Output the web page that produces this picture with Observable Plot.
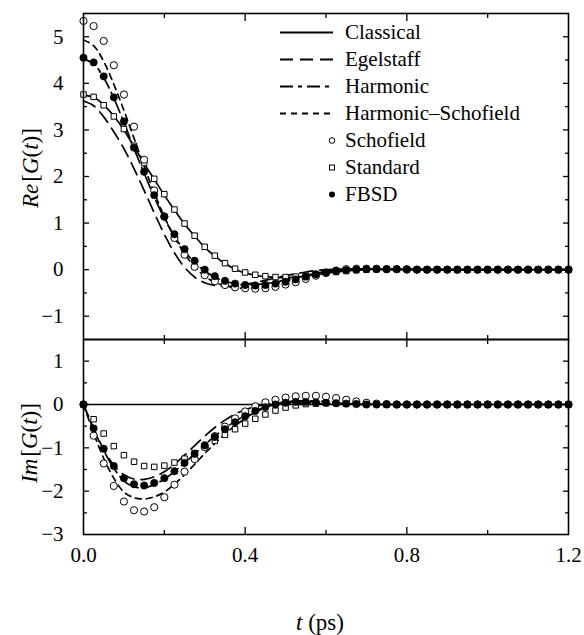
<!DOCTYPE html>
<html><head><meta charset="utf-8">
<script src="https://cdn.jsdelivr.net/npm/d3@7"></script>
<script src="https://cdn.jsdelivr.net/npm/@observablehq/plot@0.6"></script>
<style>
body{margin:0;background:#fff;}
#chart{position:relative;width:584px;height:635px;font-family:"Liberation Serif",Tinos,"Times New Roman",Times,"DejaVu Serif",serif;color:#000;}
#chart svg.panel{position:absolute;left:0;overflow:visible;}
#chart svg.panel text{font-family:"Liberation Serif",Tinos,"Times New Roman",Times,"DejaVu Serif",serif;}
.lab{position:absolute;white-space:nowrap;font-size:23px;line-height:1;}
</style></head><body><div id="chart"></div>
<script>
// time grid (ps)
const t = [0,0.025,0.05,0.075,0.1,0.125,0.15,0.175,0.2,0.225,
0.25,0.275,0.3,0.325,0.35,0.375,0.4,0.425,0.45,0.475,
0.5,0.525,0.55,0.575,0.6,0.625,0.65,0.675,0.7,0.725,
0.75,0.775,0.8,0.825,0.85,0.875,0.9,0.925,0.95,0.975,
1,1.025,1.05,1.075,1.1,1.125,1.15,1.175,1.2];

// Re[G(t)]
const classicalRe = [3.74,3.70,3.54,3.30,3.00,2.64,2.28,1.94,1.60,1.28,
0.98,0.72,0.48,0.29,0.13,0.01,-0.07,-0.12,-0.15,-0.17,
-0.17,-0.16,-0.14,-0.11,-0.08,-0.05,-0.03,-0.01,0.00,0.01,
0.01,0.01,0.01,0.01,0,0,0,0,0,0,
0,0,0,0,0,0,0,0,0];
const egelstaffRe = [3.62,3.52,3.28,2.96,2.60,2.17,1.70,1.22,0.76,0.36,
0.05,-0.16,-0.28,-0.34,-0.36,-0.35,-0.32,-0.28,-0.23,-0.18,
-0.13,-0.09,-0.05,-0.02,0.00,0.01,0.01,0.01,0.01,0.00,
0,0,0,0,0,0,0,0,0,0,
0,0,0,0,0,0,0,0,0];
const harmonicRe = [4.52,4.42,4.12,3.68,3.16,2.60,2.07,1.56,1.10,0.72,
0.40,0.15,-0.03,-0.16,-0.25,-0.30,-0.32,-0.32,-0.30,-0.27,
-0.22,-0.17,-0.12,-0.08,-0.04,-0.02,0.00,0.01,0.01,0.01,
0.01,0,0,0,0,0,0,0,0,0,
0,0,0,0,0,0,0,0,0];
const harmSchofieldRe = [4.93,4.81,4.47,3.98,3.42,2.82,2.22,1.65,1.14,0.70,
0.34,0.06,-0.14,-0.27,-0.35,-0.39,-0.40,-0.39,-0.36,-0.31,
-0.25,-0.19,-0.13,-0.08,-0.04,-0.01,0.00,0.01,0.01,0.01,
0,0,0,0,0,0,0,0,0,0,
0,0,0,0,0,0,0,0,0];
const schofieldRe = [5.34,5.23,4.91,4.39,3.76,3.07,2.36,1.70,1.14,0.68,
0.32,0.06,-0.12,-0.25,-0.33,-0.38,-0.40,-0.41,-0.40,-0.37,
-0.32,-0.27,-0.20,-0.13,-0.07,-0.02,0.01,0.02,0.02,0.02,
0.01,0.01,0,0,0,0,0,0,0,0,
0,0,0,0,0,0,0,0,0];
const standardRe = [3.76,3.71,3.53,3.29,3.02,2.66,2.29,1.95,1.62,1.29,
0.99,0.73,0.49,0.30,0.14,0.02,-0.06,-0.11,-0.14,-0.16,
-0.16,-0.15,-0.13,-0.10,-0.07,-0.05,-0.03,-0.01,0.00,0.01,
0.01,0.01,0.01,0,0,0,0,0,0,0,
0,0,0,0,0,0,0,0,0];
const fbsdRe = [4.55,4.45,4.15,3.70,3.18,2.62,2.10,1.60,1.14,0.76,
0.44,0.19,0.00,-0.14,-0.24,-0.30,-0.33,-0.34,-0.33,-0.30,
-0.26,-0.21,-0.15,-0.10,-0.06,-0.03,-0.01,0.00,0.01,0.01,
0.01,0.01,0.01,0,0,0,0,0,0,0,
0,0,0,0,0,0,0,0,0];

// Im[G(t)]
const classicalIm = [0,0,0,0,0,0,0,0,0,0,
0,0,0,0,0,0,0,0,0,0,
0,0,0,0,0,0,0,0,0,0,
0,0,0,0,0,0,0,0,0,0,
0,0,0,0,0,0,0,0,0];
const egelstaffIm = [0,-0.55,-1.04,-1.40,-1.62,-1.72,-1.73,-1.67,-1.55,-1.38,
-1.17,-0.95,-0.73,-0.53,-0.36,-0.22,-0.12,-0.05,0.00,0.02,
0.03,0.03,0.03,0.02,0.02,0.01,0.01,0,0,0,
0,0,0,0,0,0,0,0,0,0,
0,0,0,0,0,0,0,0,0];
const harmonicIm = [0,-0.57,-1.06,-1.47,-1.76,-1.90,-1.92,-1.85,-1.72,-1.55,
-1.35,-1.14,-0.93,-0.73,-0.55,-0.39,-0.26,-0.15,-0.06,0.00,
0.04,0.06,0.06,0.05,0.04,0.03,0.02,0.01,0,0,
0,0,0,0,0,0,0,0,0,0,
0,0,0,0,0,0,0,0,0];
const harmSchofieldIm = [0,-0.66,-1.24,-1.70,-2.02,-2.15,-2.18,-2.13,-2.02,-1.84,
-1.62,-1.38,-1.13,-0.90,-0.68,-0.49,-0.32,-0.18,-0.07,0.01,
0.06,0.08,0.09,0.08,0.07,0.05,0.04,0.02,0.01,0,
0,0,0,0,0,0,0,0,0,0,
0,0,0,0,0,0,0,0,0];
const schofieldIm = [0,-0.72,-1.36,-1.88,-2.24,-2.44,-2.47,-2.37,-2.14,-1.85,
-1.55,-1.26,-0.98,-0.73,-0.51,-0.32,-0.16,-0.04,0.05,0.11,
0.16,0.19,0.20,0.20,0.18,0.15,0.11,0.07,0.04,0.02,
0.01,0,0,0,0,0,0,0,0,0,
0,0,0,0,0,0,0,0,0];
const standardIm = [0,-0.34,-0.67,-0.96,-1.17,-1.32,-1.42,-1.44,-1.41,-1.34,
-1.25,-1.12,-0.98,-0.84,-0.70,-0.57,-0.44,-0.33,-0.23,-0.14,
-0.07,-0.02,0.01,0.02,0.03,0.03,0.02,0.02,0.01,0.01,
0,0,0,0,0,0,0,0,0,0,
0,0,0,0,0,0,0,0,0];
const fbsdIm = [0,-0.55,-1.02,-1.42,-1.70,-1.84,-1.87,-1.81,-1.70,-1.54,
-1.35,-1.14,-0.94,-0.75,-0.57,-0.41,-0.27,-0.15,-0.06,0.00,
0.04,0.06,0.06,0.05,0.04,0.03,0.02,0.01,0,0,
0,0,0,0,0,0,0,0,0,0,
0,0,0,0,0,0,0,0,0];

// series and styling keys
const lineNames = ["Classical","Egelstaff","Harmonic","Harmonic–Schofield"];
const pointNames = ["Schofield","Standard","FBSD"];
const dashes = {"Classical": null, "Egelstaff": "13,7", "Harmonic": "13,5,4,5", "Harmonic–Schofield": "6,5"};

// tick values
const xLabelTicks = [0, 0.4, 0.8, 1.2];
const xMajorTicks = [0.4, 0.8];
const xMinorTicks = [0.2, 0.6, 1.0];
const reLabelTicks = [-1,0,1,2,3,4,5];
const reMinorTicks = [-0.5,0.5,1.5,2.5,3.5,4.5];
const imLabelTicks = [-3,-2,-1,0,1];
const imMajorTicks = [-2,-1,0,1];
const imMinorTicks = [-2.5,-1.5,-0.5,0.5];

const FONT = "'Liberation Serif',Tinos,'Times New Roman',Times,'DejaVu Serif',serif";
const rows = (arr, s) => t.map((tt, i) => ({t: tt, v: arr[i], s}));
const fmtY = d => d < 0 ? "\u2212" + (-d) : String(d);

function panel({lines, pts, height, marginTop, marginBottom, yDomain, yLabels, yMajor, yMinor, xLabels}) {
  const marks = [];
  lineNames.forEach((name, k) => {
    const o = {x: "t", y: "v", curve: "catmull-rom", stroke: "black", strokeWidth: 1.7};
    if (dashes[name]) o.strokeDasharray = dashes[name];
    marks.push(Plot.line(rows(lines[k], name), o));
  });
  marks.push(Plot.dot(rows(pts[1], "Standard"), {x: "t", y: "v", symbol: "square", r: 3.1, fill: "white", stroke: "black", strokeWidth: 1}));
  marks.push(Plot.dot(rows(pts[0], "Schofield"), {x: "t", y: "v", r: 3.6, fill: "white", stroke: "black", strokeWidth: 1}));
  marks.push(Plot.dot(rows(pts[2], "FBSD"), {x: "t", y: "v", r: 3.7, fill: "black", stroke: "black", strokeWidth: 0.5}));
  for (const anchor of ["top", "bottom"]) {
    marks.push(Plot.axisX(xMajorTicks, {anchor, tickSize: -7, fill: "none", label: null, strokeWidth: 1.3}));
    marks.push(Plot.axisX(xMinorTicks, {anchor, tickSize: -4, fill: "none", label: null, strokeWidth: 1.3}));
  }
  for (const anchor of ["left", "right"]) {
    marks.push(Plot.axisY(yMajor, {anchor, tickSize: -6, fill: "none", label: null, strokeWidth: 1.3}));
    marks.push(Plot.axisY(yMinor, {anchor, tickSize: -4, fill: "none", label: null, strokeWidth: 1.3}));
  }
  marks.push(Plot.axisY(yLabels, {anchor: "left", tickSize: 0, tickPadding: 20, tickFormat: fmtY, label: null, fontFamily: FONT}));
  if (xLabels) marks.push(Plot.axisX(xLabels, {anchor: "bottom", tickSize: 0, tickPadding: 13, tickFormat: d => d.toFixed(1), label: null, fontFamily: FONT}));
  marks.push(Plot.frame({stroke: "black", strokeWidth: 1.6}));
  const svg = Plot.plot({
    width: 584, height, marginLeft: 83, marginRight: 16, marginTop, marginBottom,
    x: {domain: [0, 1.2]},
    y: {domain: yDomain},
    style: {fontFamily: FONT, fontSize: "21px", color: "black", background: "transparent", overflow: "visible"},
    marks
  });
  svg.classList.add("panel");
  return svg;
}

const chart = document.getElementById("chart");
const topSvg = panel({
  lines: [classicalRe, egelstaffRe, harmonicRe, harmSchofieldRe],
  pts: [schofieldRe, standardRe, fbsdRe],
  height: 340, marginTop: 13, marginBottom: 1, yDomain: [-1.5, 5.5],
  yLabels: reLabelTicks, yMajor: reLabelTicks, yMinor: reMinorTicks, xLabels: null
});
topSvg.style.top = "0px";
const botSvg = panel({
  lines: [classicalIm, egelstaffIm, harmonicIm, harmSchofieldIm],
  pts: [schofieldIm, standardIm, fbsdIm],
  height: 296, marginTop: 0, marginBottom: 101, yDomain: [-3, 1.5],
  yLabels: imLabelTicks, yMajor: imMajorTicks, yMinor: imMinorTicks, xLabels: xLabelTicks
});
botSvg.style.top = "339px";
chart.appendChild(topSvg);
chart.appendChild(botSvg);

// legend
const legendNames = lineNames.concat(pointNames);
legendNames.forEach((name, i) => {
  const row = document.createElement("div");
  row.style.cssText = `position:absolute;left:280px;top:${18.5 + i * 27}px;height:27px;display:flex;align-items:center;white-space:nowrap;font-size:21px;`;
  let sample;
  if (lineNames.includes(name)) {
    sample = `<line x1="0" x2="53" y1="13.5" y2="13.5" stroke="black" stroke-width="1.8"${dashes[name] ? ` stroke-dasharray="${dashes[name]}"` : ""}/>`;
  } else if (name === "Schofield") {
    sample = `<circle cx="52" cy="13.5" r="2.8" fill="white" stroke="black" stroke-width="1"/>`;
  } else if (name === "Standard") {
    sample = `<rect x="49.5" y="11" width="5" height="5" fill="white" stroke="black" stroke-width="1"/>`;
  } else {
    sample = `<circle cx="52" cy="13.5" r="3" fill="black"/>`;
  }
  row.innerHTML = `<svg width="65" height="27">${sample}</svg><span>${name}</span>`;
  chart.appendChild(row);
});

// axis titles
function addLabel(html, cx, cy, rot) {
  const d = document.createElement("div");
  d.className = "lab";
  d.innerHTML = html;
  d.style.left = cx + "px";
  d.style.top = cy + "px";
  d.style.transform = `translate(-50%,-50%)${rot ? " rotate(-90deg)" : ""}`;
  chart.appendChild(d);
}
addLabel("<i>Re</i>&#8202;[<i>G</i>(<i>t</i>)]", 30, 168, true);
addLabel("<i>Im</i>&#8202;[<i>G</i>(<i>t</i>)]", 29, 443, true);
addLabel("<i>t</i>&#8197;(ps)", 320, 622, false);
</script></body></html>
